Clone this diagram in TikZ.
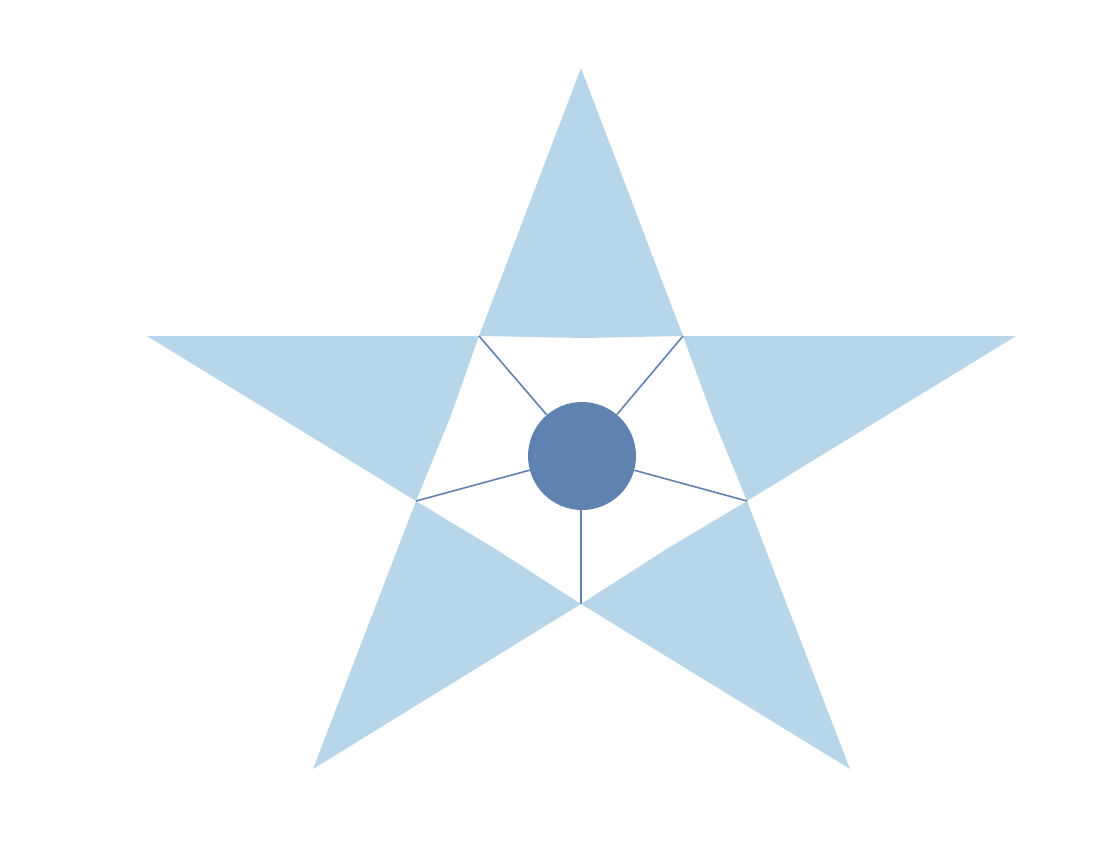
\documentclass[tikz,border=0pt]{standalone}
\definecolor{starblue}{HTML}{B8D6E9}
\definecolor{hubblue}{HTML}{6082B0}
\begin{document}
\begin{tikzpicture}[x=1pt,y=-1pt,
  point/.style={fill=starblue,draw=none},
  spoke/.style={draw=hubblue,line width=1.6pt},
  hub/.style={circle,fill=hubblue,minimum size=108pt,inner sep=0pt}]
\useasboundingbox (0,0) rectangle (1102,845);
\coordinate (T) at (581,68);
\coordinate (L) at (147,336);
\coordinate (R) at (1016,336);
\coordinate (BL) at (313,769);
\coordinate (BR) at (850,769);
\coordinate (iUL) at (479,336);
\coordinate (iUR) at (683,336);
\coordinate (iL) at (416,501);
\coordinate (iR) at (747,501);
\coordinate (iB) at (581,604);
\fill[point] (T) -- (iUR) -- (584,338) -- (iUL) -- cycle;
\fill[point] (L) -- (iUL) -- (450,418) -- (iL) -- cycle;
\fill[point] (R) -- (iUR) -- (713,418) -- (iR) -- cycle;
\fill[point] (BL) -- (iL) -- (497,550) -- (iB) -- cycle;
\fill[point] (BR) -- (iR) -- (665,550) -- (iB) -- cycle;
\node[hub] (c) at (582,456) {};
\draw[spoke] (iUL) -- (c);
\draw[spoke] (iUR) -- (c);
\draw[spoke] (iL) -- (c);
\draw[spoke] (iR) -- (c);
\draw[spoke] (iB) -- (iB |- c.south);
\end{tikzpicture}
\end{document}
